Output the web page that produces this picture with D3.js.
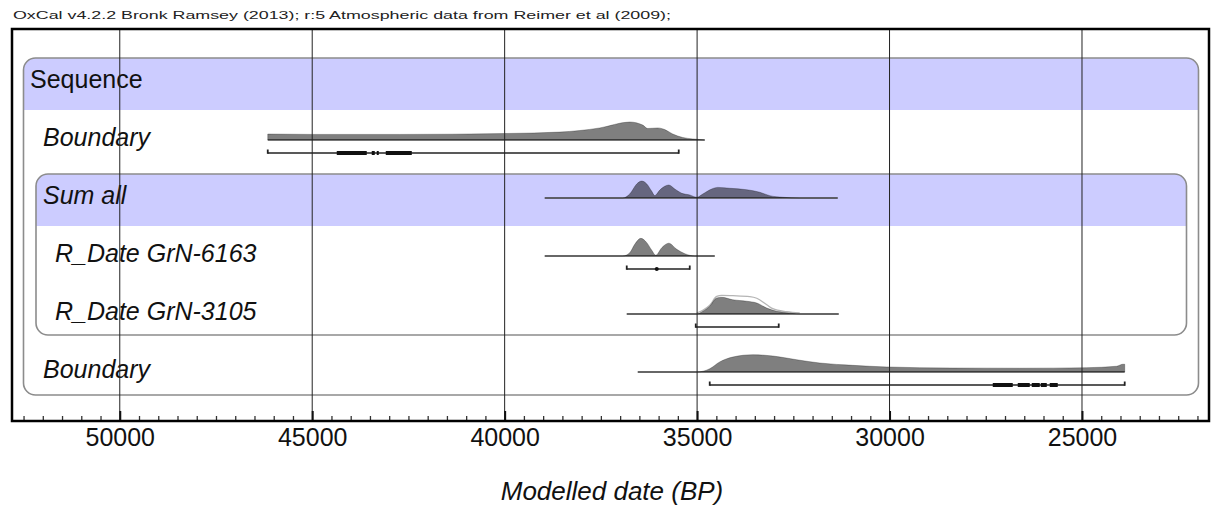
<!DOCTYPE html>
<html><head><meta charset="utf-8">
<script src="https://cdn.jsdelivr.net/npm/d3@7"></script>
<style>body{margin:0;background:#fff}svg{display:block}text{font-family:"Liberation Sans",Arial,sans-serif}</style>
</head><body><div id="chart"></div>
<script>
// ---------- data ----------
const title = "OxCal v4.2.2 Bronk Ramsey (2013); r:5 Atmospheric data from Reimer et al (2009);";
const rowLabels = ["Sequence", "Boundary", "Sum all", "R_Date GrN-6163", "R_Date GrN-3105", "Boundary"];
const majorTicks = [50000, 45000, 40000, 35000, 30000, 25000];
const axisTitle = "Modelled date (BP)";

// distributions: dates (BP) and relative probability
const boundary1Dates = [46155, 44986, 42726, 39998, 38569, 37530, 36751, 36413, 36283, 36023, 35841, 35633, 35373, 35113, 34801];
const boundary1Prob  = [0.33, 0.31, 0.31, 0.36, 0.44, 0.67, 1.0, 0.83, 0.64, 0.67, 0.58, 0.33, 0.14, 0.06, 0];
const boundary1Range = [46155, 35477];
const boundary1Blocks = [[44362, 43583], [43453, 43375], [43323, 43271], [43089, 42413]];

const sumDates = [38959, 36932, 36750, 36568, 36438, 36308, 36178, 36100, 35970, 35736, 35580, 35398, 35191, 35009, 34853, 34620, 34464, 34152, 33710, 33372, 33113, 32775, 32333, 31346];
const sumProb  = [0, 0, 0.22, 0.78, 0.94, 0.78, 0.37, 0.13, 0.44, 0.72, 0.5, 0.26, 0.17, 0.04, 0.22, 0.5, 0.59, 0.54, 0.46, 0.32, 0.13, 0.04, 0, 0];

const grn6163Dates = [38959, 36932, 36750, 36620, 36464, 36308, 36178, 36074, 35918, 35736, 35528, 35320, 35061, 34541];
const grn6163Prob  = [0, 0, 0.18, 0.65, 0.98, 0.74, 0.32, 0.04, 0.46, 0.71, 0.37, 0.13, 0, 0];
const grn6163Range = [36828, 35191];
const grn6163Dot = 36048;

const grn3105Dates = [36828, 35009, 34853, 34672, 34490, 34360, 34074, 33710, 33450, 33190, 32931, 32671, 32333, 31320];
const grn3105Prob  = [0, 0, 0.15, 0.43, 0.89, 0.93, 0.79, 0.71, 0.61, 0.33, 0.15, 0.07, 0, 0];
const grn3105PriorDates = [35009, 34853, 34672, 34490, 34360, 34074, 33632, 33450, 33190, 33034, 32671, 32333];
const grn3105PriorProb  = [0, 0.15, 0.43, 0.92, 0.98, 0.96, 0.91, 0.82, 0.46, 0.24, 0.07, 0];
const grn3105Range = [35035, 32879];

const boundary2Dates = [36542, 35009, 34672, 34412, 34074, 33554, 33034, 32411, 31814, 30956, 30073, 28358, 26617, 24877, 24097, 23941, 23890];
const boundary2Prob  = [0, 0, 0.18, 0.56, 0.83, 0.96, 0.89, 0.68, 0.5, 0.37, 0.28, 0.22, 0.21, 0.24, 0.32, 0.43, 0.43];
const boundary2Range = [34672, 23890];
const boundary2Blocks = [[27318, 26799], [26669, 26357], [26305, 26097], [26071, 25915], [25838, 25630]];

// ---------- layout ----------
const W = 1217, H = 506;
const frame = {l: 12, r: 1209, t: 29, b: 421};
const rowY = i => 82 + 58 * i;      // distribution baseline of row i
const maxH = 18;

const svg = d3.select("#chart").append("svg").attr("width", W).attr("height", H);
svg.append("rect").attr("width", W).attr("height", H).attr("fill", "#fff");

const x = d3.scaleLinear().domain([52800, 21700]).range([frame.l, frame.r]);
const y = d3.scaleLinear().domain([0, 1]).range([0, maxH]);

svg.append("text").attr("x", 13).attr("y", 19).attr("font-size", 11.5).attr("fill", "#222")
  .attr("textLength", 658).attr("lengthAdjust", "spacingAndGlyphs").text(title);

// boxes
const defs = svg.append("defs");
function box(id, x0, x1, y0, y1, bandBottom) {
  defs.append("clipPath").attr("id", id).append("rect")
    .attr("x", x0).attr("y", y0).attr("width", x1 - x0).attr("height", y1 - y0).attr("rx", 12);
  const g = svg.append("g");
  g.append("rect").attr("x", x0).attr("y", y0).attr("width", x1 - x0).attr("height", bandBottom - y0)
    .attr("fill", "#ccccff").attr("clip-path", `url(#${id})`);
  g.append("rect").attr("x", x0).attr("y", y0).attr("width", x1 - x0).attr("height", y1 - y0).attr("rx", 12)
    .attr("fill", "none").attr("stroke", "#8c8c8c").attr("stroke-width", 1.6);
}
box("c1", 23.5, 1198.5, rowY(0) - 24, rowY(5) + 23, rowY(0) + 28);
box("c2", 36, 1186.5, rowY(2) - 24, rowY(4) + 21, rowY(2) + 28);

// labels
const labelX = [30, 43, 43, 55, 55, 43];
rowLabels.forEach((t, i) => {
  svg.append("text").attr("x", labelX[i]).attr("y", rowY(i) + 6)
    .attr("font-size", 25).attr("font-style", i === 0 ? "normal" : "italic").attr("fill", "#111").text(t);
});

// distributions
function dist(row, dates, probs) {
  const base = rowY(row);
  const pts = dates.map((d, i) => [d, probs[i]]);
  const area = d3.area().x(d => x(d[0])).y0(base).y1(d => base - y(d[1])).curve(d3.curveMonotoneX);
  svg.append("line").attr("x1", x(dates[0])).attr("x2", x(dates[dates.length - 1]))
    .attr("y1", base).attr("y2", base).attr("stroke", "#666").attr("stroke-width", 1.6);
  svg.append("path").datum(pts).attr("d", area).attr("fill", "rgba(0,0,0,0.5)").attr("stroke", "rgba(0,0,0,0.35)").attr("stroke-width", 0.8);
}
function prior(row, dates, probs) {
  const base = rowY(row);
  const pts = dates.map((d, i) => [d, probs[i]]);
  const line = d3.line().x(d => x(d[0])).y(d => base - y(d[1]) - 1).curve(d3.curveMonotoneX);
  svg.append("path").datum(pts).attr("d", line).attr("fill", "none").attr("stroke", "#b5b5b5").attr("stroke-width", 1.3);
}
function rangeBar(row, range, blocks = [], dot = null) {
  const yy = rowY(row) + 13;
  const g = svg.append("g").attr("stroke", "#222");
  g.append("line").attr("x1", x(range[0])).attr("x2", x(range[1])).attr("y1", yy).attr("y2", yy).attr("stroke-width", 1.6);
  range.forEach(v => g.append("line").attr("x1", x(v)).attr("x2", x(v)).attr("y1", yy - 3.5).attr("y2", yy + 0.8).attr("stroke-width", 1.8));
  blocks.forEach(b => svg.append("rect").attr("x", x(b[0])).attr("width", x(b[1]) - x(b[0]))
    .attr("y", yy - 2).attr("height", 4).attr("fill", "#111"));
  if (dot !== null) svg.append("circle").attr("cx", x(dot)).attr("cy", yy).attr("r", 2).attr("fill", "#111");
}

dist(1, boundary1Dates, boundary1Prob);
rangeBar(1, boundary1Range, boundary1Blocks);
dist(2, sumDates, sumProb);
dist(3, grn6163Dates, grn6163Prob);
rangeBar(3, grn6163Range, [], grn6163Dot);
prior(4, grn3105PriorDates, grn3105PriorProb);
dist(4, grn3105Dates, grn3105Prob);
rangeBar(4, grn3105Range);
dist(5, boundary2Dates, boundary2Prob);
rangeBar(5, boundary2Range, boundary2Blocks);

// grid lines
svg.append("g").selectAll("line").data(majorTicks).join("line")
  .attr("x1", d => x(d)).attr("x2", d => x(d)).attr("y1", frame.t).attr("y2", frame.b)
  .attr("stroke", "#222").attr("stroke-width", 1);

// axis
const minorTicks = d3.range(52500, 21700, -500).filter(v => v % 5000 !== 0);
const minorAxis = d3.axisBottom(x).tickValues(minorTicks).tickSize(-5).tickFormat("");
const gMinor = svg.append("g").attr("transform", `translate(0,${frame.b})`).call(minorAxis);
gMinor.select(".domain").remove();
gMinor.selectAll("line").attr("stroke", "#333").attr("stroke-width", 1.3);
const majorAxis = d3.axisBottom(x).tickValues(majorTicks).tickSize(-10).tickPadding(7).tickFormat(d3.format("d"));
const gMajor = svg.append("g").attr("transform", `translate(0,${frame.b})`).call(majorAxis);
gMajor.select(".domain").remove();
gMajor.selectAll("line").attr("stroke", "#111").attr("stroke-width", 2);
gMajor.selectAll("text").attr("font-size", 25).attr("fill", "#111").attr("font-family", "Liberation Sans, Arial, sans-serif");

// frame
svg.append("rect").attr("x", frame.l).attr("y", frame.t).attr("width", frame.r - frame.l).attr("height", frame.b - frame.t)
  .attr("fill", "none").attr("stroke", "#000").attr("stroke-width", 2.5);

svg.append("text").attr("x", 612).attr("y", 500).attr("text-anchor", "middle")
  .attr("font-size", 26).attr("font-style", "italic").attr("fill", "#111").text(axisTitle);
</script></body></html>
